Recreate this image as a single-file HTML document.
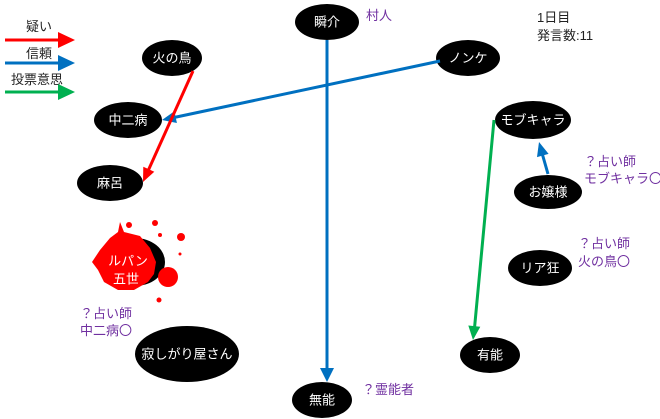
<!DOCTYPE html>
<html><head><meta charset="utf-8"><style>
body{margin:0;background:#fff;width:660px;height:419px;overflow:hidden}
svg{display:block}
text{font-family:"Liberation Sans","Noto Sans CJK JP",sans-serif;font-size:13px}
.w{fill:#fff;text-anchor:middle;dominant-baseline:central}
.p{fill:#7030a0}
.k{fill:#222}
</style></head><body>
<svg width="660" height="419" viewBox="0 0 660 419">
<!-- legend -->
<text x="26" y="31" class="k">疑い</text>
<line x1="5" y1="40" x2="60" y2="40" stroke="#ff0000" stroke-width="3"/>
<polygon points="58,32 75,40 58,48" fill="#ff0000"/>
<text x="26" y="58" class="k">信頼</text>
<line x1="5" y1="63" x2="60" y2="63" stroke="#0070c0" stroke-width="3"/>
<polygon points="58,55 75,63 58,71" fill="#0070c0"/>
<text x="11" y="84" class="k">投票意思</text>
<line x1="5" y1="92" x2="60" y2="92" stroke="#00b050" stroke-width="3"/>
<polygon points="58,84 75,92 58,100" fill="#00b050"/>

<text x="537" y="22" class="k">1日目</text>
<text x="537" y="40" class="k">発言数:11</text>

<!-- nodes -->
<ellipse cx="327" cy="22" rx="32" ry="18"/><text x="327" y="22" class="w">瞬介</text>
<text x="366" y="20" class="p">村人</text>
<ellipse cx="172" cy="58" rx="30" ry="18"/><text x="172" y="58" class="w">火の鳥</text>
<ellipse cx="468" cy="58" rx="32" ry="18"/><text x="468" y="58" class="w">ノンケ</text>
<ellipse cx="128" cy="120" rx="34" ry="18"/><text x="128" y="120" class="w">中二病</text>
<ellipse cx="110" cy="183" rx="33" ry="18"/><text x="110" y="183" class="w">麻呂</text>
<ellipse cx="533" cy="120" rx="38" ry="19"/><text x="533" y="120" class="w">モブキャラ</text>
<ellipse cx="548" cy="192" rx="34" ry="17"/><text x="548" y="192" class="w">お嬢様</text>
<text x="584" y="166" class="p">？占い師</text>
<text x="584" y="183" class="p">モブキャラ〇</text>
<ellipse cx="540" cy="268" rx="32" ry="18"/><text x="540" y="268" class="w">リア狂</text>
<text x="578" y="248" class="p">？占い師</text>
<text x="578" y="266" class="p">火の鳥〇</text>
<!-- ルパン blob -->
<ellipse cx="135" cy="262" rx="30" ry="24" fill="#000"/>
<path d="M100,250 L110,238 L118,232 L120,222 L124,232 L140,236 L150,248 L156,262 L154,274 L148,282 L134,290 L118,290 L104,282 L98,270 L92,262 Z" fill="#ff0000"/>
<circle cx="168" cy="277" r="10" fill="#ff0000"/>
<circle cx="129" cy="225" r="3" fill="#ff0000"/><circle cx="155" cy="223" r="3" fill="#ff0000"/><circle cx="181" cy="237" r="4" fill="#ff0000"/><circle cx="160" cy="235" r="2" fill="#ff0000"/><circle cx="159" cy="300" r="2.5" fill="#ff0000"/><circle cx="180" cy="254" r="1.5" fill="#ff0000"/>
<text x="128" y="261" class="w">ルパン</text>
<text x="126" y="279" class="w">五世</text>
<text x="80" y="318" class="p">？占い師</text>
<text x="80" y="335" class="p">中二病〇</text>
<ellipse cx="187" cy="354" rx="52" ry="28"/><text x="187" y="354" class="w">寂しがり屋さん</text>
<ellipse cx="490" cy="355" rx="30" ry="18"/><text x="490" y="355" class="w">有能</text>
<ellipse cx="322" cy="400" rx="30" ry="18"/><text x="322" y="400" class="w">無能</text>
<text x="362" y="394" class="p">？霊能者</text>

<!-- edges -->
<line x1="327" y1="40" x2="327" y2="370" stroke="#0070c0" stroke-width="3"/>
<polygon points="327,382 320,368 334,368" fill="#0070c0"/>
<line x1="440" y1="61" x2="174" y2="117.5" stroke="#0070c0" stroke-width="3"/>
<polygon points="162,120 176.9,123 174.4,111.2" fill="#0070c0"/>
<line x1="193" y1="71" x2="148" y2="171" stroke="#ff0000" stroke-width="3"/>
<polygon points="143,182 154.3,171.7 143.3,166.7" fill="#ff0000"/>
<line x1="494" y1="120" x2="474.5" y2="328" stroke="#00b050" stroke-width="3"/>
<polygon points="473,340 480.3,326.7 468.3,325.5" fill="#00b050"/>
<line x1="548" y1="174" x2="542" y2="153" stroke="#0070c0" stroke-width="3"/>
<polygon points="539,142 548.6,153.9 537,157.1" fill="#0070c0"/>
</svg>
</body></html>
